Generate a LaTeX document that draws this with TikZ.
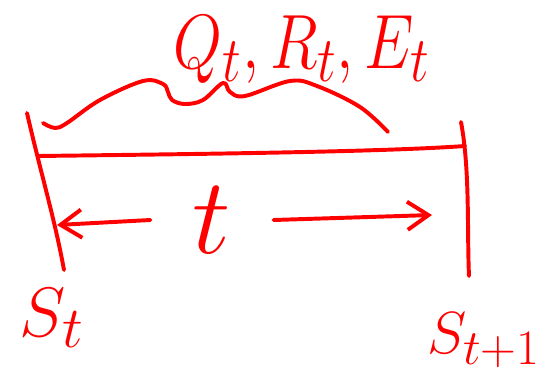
\documentclass[tikz,border=0pt]{standalone}
\usetikzlibrary{arrows.meta}
\definecolor{rojo}{RGB}{255,0,0}
\tikzset{
  trazo/.style={draw=rojo, line width=2.8pt, line cap=round, line join=round},
  flecha/.style={trazo, -{Straight Barb[length=15pt,width=20pt]}},
  etiqueta/.style={text=rojo, inner sep=0pt, font=\Huge},
}
\begin{document}
\begin{tikzpicture}[x=0.025cm, y=-0.025cm]
  \useasboundingbox (0,0) rectangle (540,383);

  % Extremos del intervalo
  \coordinate (izqarriba) at (27,113);
  \coordinate (izqabajo) at (64,270);
  \coordinate (derarriba) at (461,122);
  \coordinate (derabajo) at (469,276);
  \coordinate (lineaizq) at (38,156);
  \coordinate (lineader) at (465,146);
  \draw[trazo] (izqarriba) .. controls (40,170) and (55,220) .. (izqabajo);
  \draw[trazo] (derarriba) .. controls (470,170) and (467,230) .. (derabajo);
  \draw[trazo] (lineaizq) .. controls (200,154) and (380,152) .. (lineader);

  % Llave sobre el intervalo
  \draw[trazo] plot[smooth, tension=0.6] coordinates {(43,123) (55,128) (67,123) (100,100) (143,81)
    (163,84) (168,92) (172,100) (185,104) (203,100) (223,83) (230,92) (245,96) (290,81) (317,86)
    (360,107) (388,132)};

  % Etiquetas
  \node[etiqueta] (senales) at (302,50) {\scalebox{1.8}[2.2]{$Q_t, R_t, E_t$}};
  \node[etiqueta, inner xsep=30pt] (paso) at (212,220) {\scalebox{3.1}{$t$}};
  \node[etiqueta] (estado) at (52,318) {\scalebox{2}{$S_t$}};
  \node[etiqueta] (siguiente) at (484,340) {\scalebox{1.7}{$S_{t+1}$}};

  % Flechas del paso
  \coordinate (puntaizq) at (57,225);
  \coordinate (puntader) at (432,215);
  \draw[flecha] (paso.west) -- (puntaizq);
  \draw[flecha] (paso.east) -- (puntader);
\end{tikzpicture}
\end{document}
